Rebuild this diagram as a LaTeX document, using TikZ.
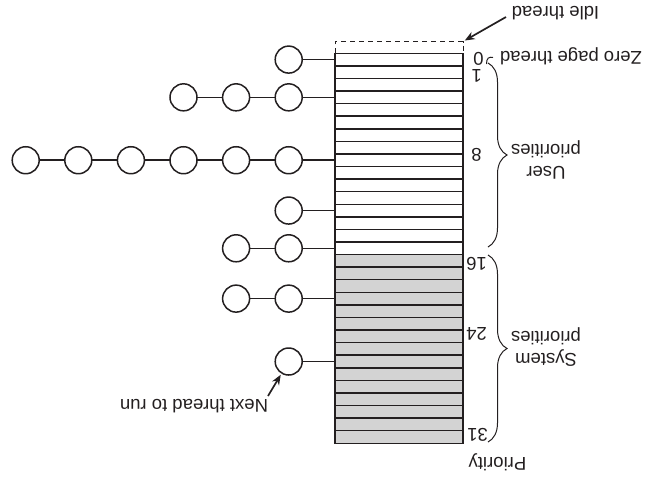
\documentclass[tikz,border=0pt]{standalone}
\usepackage{fontspec}
\setmainfont{Liberation Sans}
\usetikzlibrary{decorations.pathreplacing,arrows.meta}
\definecolor{ink}{RGB}{35,31,32}
\definecolor{cellgray}{RGB}{211,211,211}
\begin{document}
\begin{tikzpicture}[x=1pt,y=-1pt,
  cell/.style={draw=ink, line width=1.5pt, minimum width=128pt, minimum height=12.58pt, inner sep=0pt, outer sep=0pt},
  ucell/.style={cell, fill=white},
  scell/.style={cell, fill=cellgray},
  thr/.style={circle, draw=ink, line width=1.5pt, minimum size=27pt, inner sep=0pt, outer sep=0pt},
  link/.style={draw=ink, line width=1.5pt},
  lbl/.style={rotate=180, font=\fontsize{18.5}{22}\selectfont, text=ink, inner sep=0pt, align=center},
  num/.style={lbl, text height=0.72em, text depth=0pt},
  arr/.style={draw=ink, line width=1.7pt, -{Stealth[length=10pt,width=8pt]}},
  brc/.style={draw=ink, line width=1pt, decorate, decoration={brace, amplitude=19pt}}
]
\useasboundingbox (0,0) rectangle (646,483);
% priority cells
\foreach \i in {0,...,15} {
  \node[ucell] (r\i) at (399,{53.3+(\i+0.5)*12.58}) {};
}
\foreach \i in {16,...,30} {
  \node[scell] (r\i) at (399,{53.3+(\i+0.5)*12.58}) {};
}
% idle thread slot (dashed)
\coordinate (idleL) at ([yshift=11.8pt]r0.north west);
\coordinate (idleR) at ([yshift=11.8pt]r0.north east);
\draw[ink, line width=1pt, dash pattern=on 5pt off 4pt] (r0.north west) -- (idleL) -- (idleR) -- (r0.north east);
% thread queues
\foreach \r/\n in {0/1,3/3,8/6,12/1,15/2,19/2,24/1} {
  \foreach \k in {1,...,\n} {
    \pgfmathsetmacro\dx{-46.3-(\k-1)*52.6}
    \node[thr] (c\r-\k) at ([xshift=\dx pt]r\r.west) {};
    \ifnum\k>1
      \pgfmathtruncatemacro\p{\k-1}
      \draw[link] (c\r-\k) -- (c\r-\p);
    \fi
  }
  \draw[link] (c\r-1) -- (r\r.west);
}
% numbers
\node[num] (n0) at (478.5,56) {0};
\node[num] (n1) at (476.7,73) {1};
\node[num] (n8) at (476.5,152.5) {8};
\node[num] (n16) at (476.5,261.5) {16};
\node[num] (n24) at (476.5,331.5) {24};
\node[num] (n31) at (477.5,432.5) {31};
% braces
\coordinate (ub1) at (488,63);
\coordinate (ub2) at (488,247);
\coordinate (sb1) at (488,255);
\coordinate (sb2) at (488,442);
\draw[brc] (ub1) -- (ub2);
\draw[brc] (sb1) -- (sb2);
\coordinate (zh1) at (486.5,64);
\coordinate (zh2) at (493,57.5);
\draw[ink, line width=1pt] (zh1) .. controls (486.5,58) and (489,56.5) .. (zh2);
% labels
\node[lbl] (user) at (546,160) {User\\priorities};
\node[lbl] (sys) at (546,347) {System\\priorities};
\node[lbl] (zero) at (571,56) {Zero page thread};
\node[lbl] (idle) at (555.5,13) {Idle thread};
\node[lbl] (prio) at (497.5,462) {Priority};
\node[lbl] (next) at (194,406) {Next thread to run};
% arrows
\coordinate (idletail) at (506,17);
\draw[arr, shorten >=2pt] (idletail) -- (idleR);
\coordinate (nexttail) at (268,396);
\draw[arr, shorten >=2pt] (nexttail) -- (c24-1);
\end{tikzpicture}
\end{document}
